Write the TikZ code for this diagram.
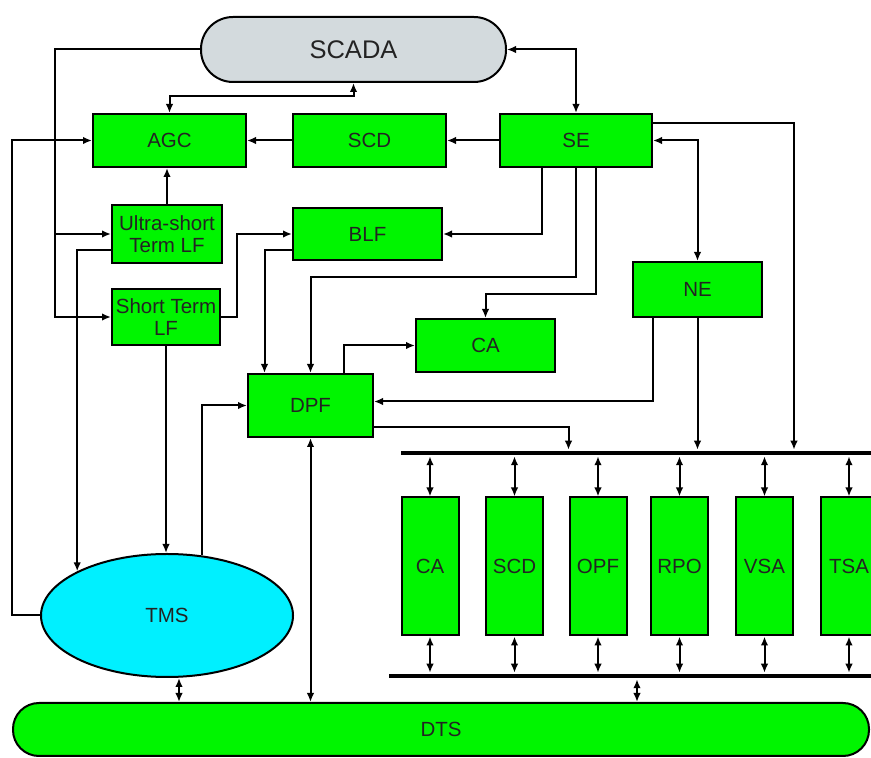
\documentclass[tikz,border=0pt]{standalone}
\usepackage{fontspec}
\setmainfont{Liberation Sans}
\usetikzlibrary{arrows.meta,shapes.geometric}
\definecolor{boxgreen}{RGB}{0,245,0}
\definecolor{scadagray}{RGB}{211,218,221}
\definecolor{tmscyan}{RGB}{0,240,255}
\definecolor{txt}{RGB}{35,35,35}
\begin{document}
\begin{tikzpicture}[x=1pt,y=1pt,line width=2pt,>={Latex[length=9pt,width=7.5pt]},
  box/.style={draw,fill=boxgreen,inner sep=0pt,text=txt,align=center,font=\fontsize{20.5}{22}\selectfont},
  mod/.style={box,minimum width=57pt,minimum height=138pt},
  bar/.style={fill=black,inner sep=0pt,minimum height=4.5pt}]
\useasboundingbox (0,0) rectangle (871,758);
\clip (0,0) rectangle (871,758);
\node[draw,fill=scadagray,rounded corners=32pt,minimum width=305pt,minimum height=65pt,inner sep=0pt,text=txt,font=\fontsize{25.5}{28}\selectfont] (scada) at (353.5,708.5) {SCADA};
\node[box,minimum width=153pt,minimum height=53pt] (agc) at (169.5,617.5) {AGC};
\node[box,minimum width=153pt,minimum height=53pt] (scd) at (369.5,617.5) {SCD};
\node[box,minimum width=152pt,minimum height=53pt] (se) at (576,617.5) {SE};
\node[box,minimum width=110pt,minimum height=58pt] (ultra) at (167,524) {Ultra-short\\Term LF};
\node[box,minimum width=108pt,minimum height=56pt] (short) at (166,441) {Short Term\\LF};
\node[box,minimum width=149pt,minimum height=52pt] (blf) at (367.5,524) {BLF};
\node[box,minimum width=125pt,minimum height=63pt] (dpf) at (310.5,352.5) {DPF};
\node[box,minimum width=139pt,minimum height=53pt] (ca) at (485.5,412.5) {CA};
\node[box,minimum width=129pt,minimum height=55pt] (ne) at (697.5,468.5) {NE};
\node[ellipse,draw,fill=tmscyan,minimum width=252pt,minimum height=123pt,inner sep=0pt,text=txt,font=\fontsize{20.5}{22}\selectfont] (tms) at (167,142.5) {TMS};
\node[box,rounded corners=26pt,minimum width=856pt,minimum height=53pt] (dts) at (441,28.5) {DTS};
\node[bar,minimum width=474pt] (bus1) at (638,305) {};
\node[bar,minimum width=486pt] (bus2) at (632,82) {};
\foreach \n/\x/\t in {mca/430/CA,mscd/514.5/SCD,opf/598/OPF,rpo/679.5/RPO,vsa/764.5/VSA,tsa/849/TSA}
  \node[mod] (\n) at (\x,191.5) {\t};
\coordinate (l1) at (55,708.5);
\draw[->] (scada.west) -- (l1) |- (short.west);
\draw[->] (l1 |- ultra.west) -- (ultra.west);
\draw[<->] (scada.south) -- ++(0,-13) -| (agc.north);
\draw[<->] (scada.east) -| (se.north);
\draw[->] (scd.west) -- (agc.east);
\draw[->] (se.west) -- (scd.east);
\draw[->] (ultra.north) -- (ultra.north |- agc.south);
\draw[->] ([yshift=-16pt]ultra.west) -| (tms.north west);
\draw[->] (short.south) -- (short.south |- tms.north);
\draw[->] (short.east) -- ++(16,0) |- (blf.west);
\draw[->] ([yshift=-16pt]blf.west) -| ([xshift=-46pt]dpf.north);
\draw[->] ([xshift=-34pt]se.south) |- (blf.east);
\draw[->] (se.south) -- ++(0,-109) -| (dpf.north);
\draw[->] ([xshift=20pt]se.south) -- ++(0,-126) -| (ca.north);
\draw[->] ([xshift=33.5pt]dpf.north) |- (ca.west);
\draw[<->] (se.east) -| (ne.north);
\draw[->] ([yshift=17pt]se.east) -| (vsa.east |- bus1.north);
\draw[->] ([xshift=-44.5pt]ne.south) |- ([yshift=4pt]dpf.east);
\draw[->] (ne.south) -- (ne.south |- bus1.north);
\draw[->] ([yshift=-21.5pt]dpf.east) -| (opf.west |- bus1.north);
\draw[->] (tms.60) |- (dpf.west);
\draw[->] (tms.west) -- ++(-28,0) |- (agc.west);
\draw[<->] (dpf.south) -- (dpf.south |- dts.north);
\coordinate (t1) at ([xshift=12pt]tms.south);
\draw[<->] (t1) -- (t1 |- dts.north);
\coordinate (b1) at ([xshift=5pt]bus2.south);
\draw[<->] (b1) -- (b1 |- dts.north);
\foreach \m in {mca,mscd,opf,rpo,vsa,tsa}{
  \draw[<->] (\m.north) -- (\m.north |- bus1.south);
  \draw[<->] (\m.south) -- (\m.south |- bus2.north);
}
\end{tikzpicture}
\end{document}
